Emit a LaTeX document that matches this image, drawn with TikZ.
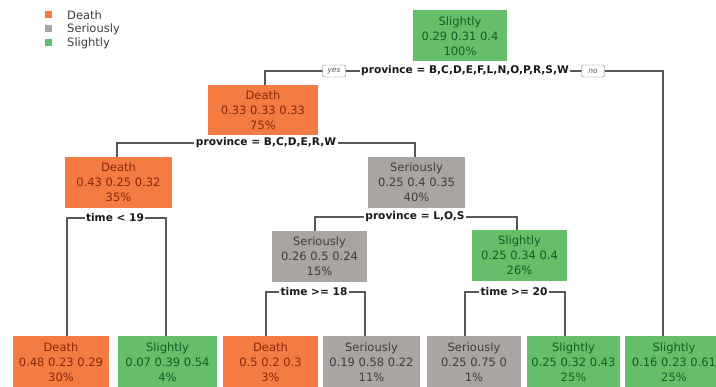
\documentclass[tikz,border=0pt]{standalone}
\usepackage{fontspec}
\setmainfont{DejaVu Sans}
\definecolor{deathfill}{RGB}{244,124,66}
\definecolor{deathtext}{RGB}{135,40,12}
\definecolor{serfill}{RGB}{170,164,162}
\definecolor{sertext}{RGB}{62,62,62}
\definecolor{slifill}{RGB}{100,190,106}
\definecolor{slitext}{RGB}{22,92,40}
\definecolor{linegray}{RGB}{88,88,88}
\tikzset{
  treebox/.style={rectangle, inner sep=0pt, minimum height=51pt, align=center,
    font=\fontsize{11.5}{15}\selectfont},
  death/.style={treebox, fill=deathfill, text=deathtext},
  serious/.style={treebox, fill=serfill, text=sertext},
  slight/.style={treebox, fill=slifill, text=slitext},
  splitlab/.style={fill=white, inner xsep=1.5pt, inner ysep=1pt, text=black!90,
    font=\fontsize{10.6}{12}\selectfont\bfseries},
  yesno/.style={draw=linegray!80, rounded corners=2pt, fill=white, text=linegray,
    inner xsep=2pt, inner ysep=1pt, minimum width=23pt, minimum height=12pt,
    font=\fontsize{7.5}{8}\selectfont\itshape},
  branch/.style={draw=linegray, line width=1.4pt},
  legsq/.style={rectangle, minimum size=7pt, inner sep=0pt},
  legtxt/.style={anchor=west, inner sep=0pt, text=black!75, font=\fontsize{11.5}{13}\selectfont}
}
\begin{document}
\begin{tikzpicture}[x=1pt,y=-1pt]
\useasboundingbox (0,0) rectangle (716,387);
\clip (0,0) rectangle (716,387);
\fill[white] (0,0) rectangle (716,387);

% legend
\node[legsq, fill=deathfill] (kd) at (48,15) {};
\node[legsq, fill=serfill]   (ks) at (48,29) {};
\node[legsq, fill=slifill]   (kl) at (48,43) {};
\node[legtxt] (kdt) at (67,15) {Death};
\node[legtxt] (kst) at (67,29) {Seriously};
\node[legtxt] (klt) at (67,43) {Slightly};

% positions of the branch bars
\coordinate (b1) at (465,71);
\coordinate (b2) at (266,143);
\coordinate (b3) at (115,218);
\coordinate (b4) at (415,217);
\coordinate (b5) at (314,292);
\coordinate (b6) at (514,292);

% inner nodes
\node[slight, minimum width=94pt] (root) at (460,36) {Slightly\\0.29 0.31 0.4\\100\%};
\node[death, minimum width=110pt, minimum height=50pt] (n2) at (263,110) {Death\\0.33 0.33 0.33\\75\%};
\node[death, minimum width=107pt] (n3) at (118.5,182.5) {Death\\0.43 0.25 0.32\\35\%};
\node[serious, minimum width=97pt] (n4) at (416.5,182.5) {Seriously\\0.25 0.4 0.35\\40\%};
\node[serious, minimum width=95pt] (n5) at (319.5,256.5) {Seriously\\0.26 0.5 0.24\\15\%};
\node[slight, minimum width=95pt] (n6) at (519.5,255.5) {Slightly\\0.25 0.34 0.4\\26\%};

% leaves
\node[death, minimum width=96pt, minimum height=53pt] (l1) at (61,362.5) {Death\\0.48 0.23 0.29\\30\%};
\node[slight, minimum width=99pt, minimum height=53pt] (l2) at (167.5,362.5) {Slightly\\0.07 0.39 0.54\\4\%};
\node[death, minimum width=95pt, minimum height=53pt] (l3) at (270.5,362.5) {Death\\0.5 0.2 0.3\\3\%};
\node[serious, minimum width=97pt, minimum height=53pt] (l4) at (371.5,362.5) {Seriously\\0.19 0.58 0.22\\11\%};
\node[serious, minimum width=94pt, minimum height=53pt] (l5) at (474,362.5) {Seriously\\0.25 0.75 0\\1\%};
\node[slight, minimum width=93pt, minimum height=53pt] (l6) at (573.5,362.5) {Slightly\\0.25 0.32 0.43\\25\%};
\node[slight, minimum width=98pt, minimum height=53pt] (l7) at (674,362.5) {Slightly\\0.16 0.23 0.61\\25\%};

% branches
\path[branch] ([xshift=2pt]n2.north) -- ([xshift=2pt]n2.north |- b1) -- ([xshift=-11pt]l7.north |- b1) -- ([xshift=-11pt]l7.north);
\path[branch] ([xshift=-1.5pt]n3.north) -- ([xshift=-1.5pt]n3.north |- b2) -- ([xshift=-1.5pt]n4.north |- b2) -- ([xshift=-1.5pt]n4.north);
\path[branch] ([xshift=6pt]l1.north) -- ([xshift=6pt]l1.north |- b3) -- ([xshift=-1.5pt]l2.north |- b3) -- ([xshift=-1.5pt]l2.north);
\path[branch] ([xshift=-4.5pt]n5.north) -- ([xshift=-4.5pt]n5.north |- b4) -- ([xshift=-2.5pt]n6.north |- b4) -- ([xshift=-2.5pt]n6.north);
\path[branch] ([xshift=-4.5pt]l3.north) -- ([xshift=-4.5pt]l3.north |- b5) -- ([xshift=-6.5pt]l4.north |- b5) -- ([xshift=-6.5pt]l4.north);
\path[branch] ([xshift=-9pt]l5.north) -- ([xshift=-9pt]l5.north |- b6) -- ([xshift=-8.5pt]l6.north |- b6) -- ([xshift=-8.5pt]l6.north);

% labels on the bars
\node[splitlab] (s1) at (b1) {province = B,C,D,E,F,L,N,O,P,R,S,W};
\node[yesno] (yes) at (334,71) {yes};
\node[yesno] (no) at (593,71) {no};
\node[splitlab] (s2) at (b2) {province = B,C,D,E,R,W};
\node[splitlab] (s3) at (b3) {time < 19};
\node[splitlab] (s4) at (b4) {province = L,O,S};
\node[splitlab] (s5) at (b5) {time >= 18};
\node[splitlab] (s6) at (b6) {time >= 20};
\end{tikzpicture}
\end{document}
